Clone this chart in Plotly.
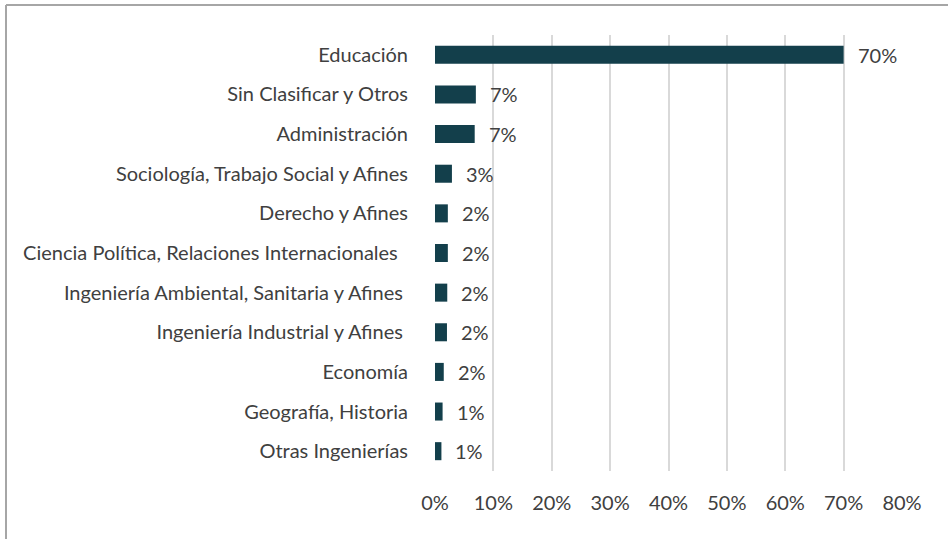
import plotly.graph_objects as go

categories = [
    "Educación",
    "Sin Clasificar y Otros",
    "Administración",
    "Sociología, Trabajo Social y Afines",
    "Derecho y Afines",
    "Ciencia Política, Relaciones Internacionales  ",
    "Ingeniería Ambiental, Sanitaria y Afines ",
    "Ingeniería Industrial y Afines ",
    "Economía",
    "Geografía, Historia",
    "Otras Ingenierías",
]
values = [0.700, 0.070, 0.068, 0.029, 0.022, 0.022, 0.021, 0.0205, 0.015, 0.013, 0.011]
value_labels = ["70%", "7%", "7%", "3%", "2%", "2%", "2%", "2%", "2%", "1%", "1%"]
x_ticks = [0, 0.1, 0.2, 0.3, 0.4, 0.5, 0.6, 0.7, 0.8]
x_ticklabels = ["0%", "10%", "20%", "30%", "40%", "50%", "60%", "70%", "80%"]

W, H = 948, 539
ML, MR, MT, MB = 435, 46, 35, 68
FONT = "Lato"
FS = 20
TXT = "#404040"

fig = go.Figure(
    go.Bar(
        x=values,
        y=categories,
        orientation="h",
        marker=dict(color="#133f4b", line=dict(width=0)),
        hoverinfo="skip",
    )
)

annotations = [
    dict(x=v, y=c, text=t, xref="x", yref="y", xanchor="left", yanchor="middle",
         xshift=12, showarrow=False, font=dict(family=FONT, size=FS, color=TXT))
    for v, c, t in zip(values, categories, value_labels)
]

pw = W - ML - MR
ph = H - MT - MB
x_left = -(ML - 6) / pw
y_top = 1 + (MT - 5) / ph
shapes = [
    dict(type="line", xref="paper", yref="paper", x0=x_left, x1=(W - ML + 10) / pw,
         y0=y_top, y1=y_top, line=dict(color="#a6a6a6", width=2)),
    dict(type="line", xref="paper", yref="paper", x0=x_left, x1=x_left,
         y0=y_top, y1=-(MB + 10) / ph, line=dict(color="#a6a6a6", width=2)),
]

fig.update_layout(
    width=W,
    height=H,
    margin=dict(l=ML, r=MR, t=MT, b=MB, pad=0),
    paper_bgcolor="white",
    plot_bgcolor="white",
    showlegend=False,
    bargap=0.545,
    font=dict(family=FONT, size=FS, color=TXT),
    annotations=annotations,
    shapes=shapes,
    xaxis=dict(
        range=[0, 0.8],
        tickvals=x_ticks,
        ticktext=x_ticklabels,
        showgrid=True,
        gridcolor="#d9d9d9",
        gridwidth=1.5,
        zeroline=False,
        showline=False,
        ticks="outside",
        ticklen=14,
        tickcolor="rgba(0,0,0,0)",
        tickfont=dict(family=FONT, size=FS, color=TXT),
        fixedrange=True,
    ),
    yaxis=dict(
        autorange="reversed",
        showgrid=False,
        zeroline=False,
        showline=False,
        ticks="outside",
        ticklen=22,
        tickcolor="rgba(0,0,0,0)",
        tickfont=dict(family=FONT, size=FS, color=TXT),
        fixedrange=True,
    ),
)

fig.write_html("out.html", config={"displayModeBar": False},
               post_script="document.body.style.margin='0';")
